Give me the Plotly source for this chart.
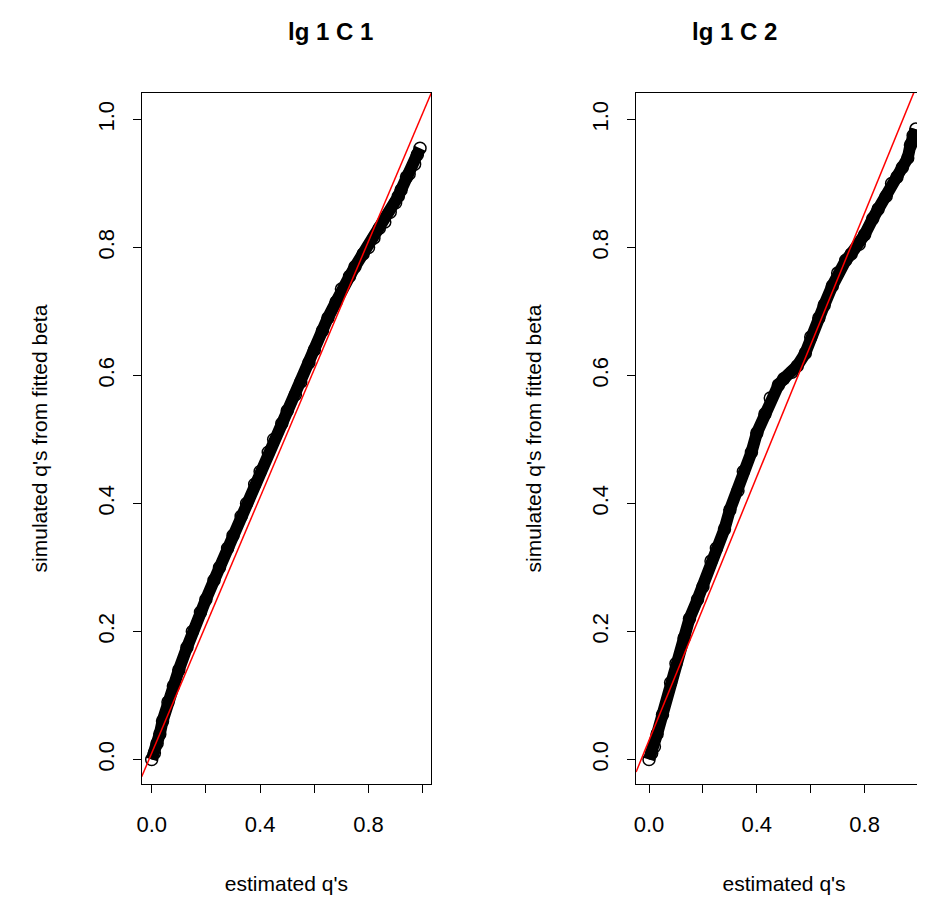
import plotly.graph_objects as go

titles = ["lg 1 C 1", "lg 1 C 2"]

est1 = [0.0, 0.01, 0.02, 0.03, 0.04, 0.06, 0.08, 0.1, 0.13, 0.15, 0.18, 0.2, 0.23, 0.25, 0.28, 0.3, 0.33,
        0.35, 0.38, 0.4, 0.43, 0.45, 0.48, 0.5, 0.53, 0.55, 0.58, 0.6, 0.63, 0.65, 0.68, 0.7, 0.73,
        0.75, 0.78, 0.8, 0.82, 0.84, 0.86, 0.88, 0.9, 0.91, 0.92, 0.94, 0.95, 0.97, 0.98, 0.99]
sim1 = [0.0, 0.01, 0.025, 0.04, 0.06, 0.09, 0.115, 0.14, 0.175, 0.2, 0.23, 0.25, 0.28, 0.3, 0.33, 0.35, 0.38,
        0.40, 0.43, 0.45, 0.48, 0.5, 0.525, 0.545, 0.57, 0.59, 0.62, 0.64, 0.67, 0.69, 0.715, 0.735, 0.755,
        0.77, 0.79, 0.8, 0.815, 0.83, 0.84, 0.855, 0.87, 0.88, 0.89, 0.91, 0.915, 0.93, 0.945, 0.955]

est2 = [0.0, 0.01, 0.02, 0.03, 0.05, 0.08, 0.1, 0.13, 0.15, 0.18, 0.2, 0.23, 0.25, 0.28, 0.3, 0.33,
        0.35, 0.38, 0.4, 0.43, 0.45, 0.48, 0.5, 0.53, 0.55, 0.58, 0.6, 0.63, 0.65, 0.68, 0.7, 0.73,
        0.75, 0.78, 0.8, 0.83, 0.85, 0.88, 0.9, 0.92, 0.94, 0.96, 0.97, 0.98, 0.99]
sim2 = [0.0, 0.01, 0.02, 0.04, 0.07, 0.12, 0.15, 0.19, 0.22, 0.25, 0.27, 0.31, 0.33, 0.36, 0.39, 0.42,
        0.45, 0.48, 0.51, 0.54, 0.565, 0.585, 0.595, 0.605, 0.615, 0.635, 0.66, 0.69, 0.71, 0.74, 0.76, 0.78,
        0.79, 0.805, 0.82, 0.845, 0.86, 0.88, 0.9, 0.91, 0.925, 0.94, 0.96, 0.975, 0.985]

ref_lines = [(0.01, 1.0), (0.03, 1.03)]  # intercept, slope

xranges = [[-0.037, 1.031], [-0.048, 1.05]]
xdomains = [[0.140, 0.455], [0.678, 1.0]]
ydomain = [0.156, 0.908]
yrange = [-0.039, 1.042]
font = "Liberation Sans, Arial, sans-serif"

fig = go.Figure()
for i, (ex, sm) in enumerate([(est1, sim1), (est2, sim2)]):
    xa = "x" if i == 0 else "x2"
    ya = "y" if i == 0 else "y2"
    fig.add_trace(go.Scatter(x=ex, y=sm, mode="lines+markers", xaxis=xa, yaxis=ya,
                             line=dict(color="black", width=12),
                             marker=dict(symbol="circle-open", size=12, color="black", line=dict(width=1.5)),
                             showlegend=False))
    a, b = ref_lines[i]
    xs = [xranges[i][0], xranges[i][1]]
    fig.add_trace(go.Scatter(x=xs, y=[a + b * v for v in xs], mode="lines", xaxis=xa, yaxis=ya,
                             line=dict(color="red", width=1.5), showlegend=False))

axis_common = dict(showgrid=False, zeroline=False, showline=True, linecolor="black", linewidth=1,
                   mirror=True, ticks="outside", ticklen=8, tickcolor="black",
                   tickfont=dict(size=22, family=font, color="black"))
for i in range(2):
    sfx = "" if i == 0 else "2"
    fig.update_layout(**{
        "xaxis" + sfx: dict(axis_common, domain=xdomains[i], range=xranges[i], tickvals=[0, 0.2, 0.4, 0.6, 0.8, 1.0],
                           ticktext=["0.0", "", "0.4", "", "0.8", ""], anchor="y" + sfx, ticklabelstandoff=12,
                           title=dict(text="estimated q's", font=dict(size=21, family=font, color="black"), standoff=40)),
        "yaxis" + sfx: dict(axis_common, domain=ydomain, range=yrange, tickvals=[0, 0.2, 0.4, 0.6, 0.8, 1.0],
                           ticktext=["0.0", "0.2", "0.4", "0.6", "0.8", "1.0"], tickangle=-90, anchor="x" + sfx,
                           ticklabelstandoff=10,
                           title=dict(text="simulated q's from fitted beta", font=dict(size=21, family=font, color="black"), standoff=40)),
    })
    fig.add_annotation(text="<b>" + titles[i] + "</b>", xref="paper", yref="paper",
                       x=0.297 if i == 0 else 0.834, y=1 - 8 / 920, showarrow=False,
                       font=dict(size=24, family=font, color="black"))

fig.update_layout(width=925, height=920, margin=dict(l=0, r=0, t=0, b=0),
                  plot_bgcolor="white", paper_bgcolor="white")
fig.write_html("out.html")
